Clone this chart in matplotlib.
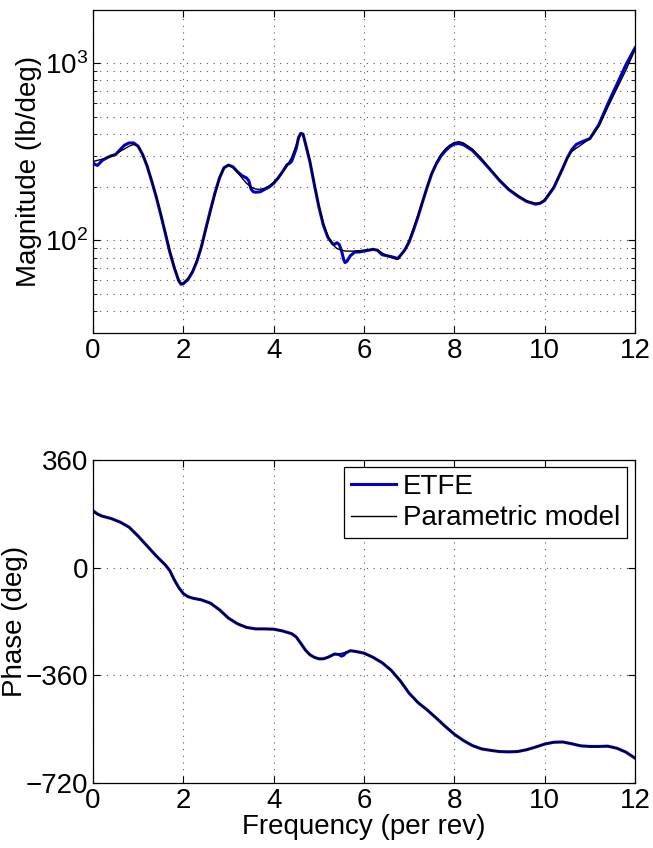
import matplotlib
matplotlib.use("Agg")
import matplotlib.pyplot as plt
from matplotlib.ticker import LogLocator, NullFormatter, FixedLocator

plt.rcParams['font.family'] = ['Liberation Sans', 'DejaVu Sans']
plt.rcParams['mathtext.fontset'] = 'custom'
plt.rcParams['mathtext.rm'] = 'Liberation Sans'
plt.rcParams['mathtext.it'] = 'Liberation Sans:italic'

# parametric model, magnitude
freq_mag_model = [0.0, 0.2, 0.4, 0.6, 0.8, 0.9, 1.0, 1.1, 1.2, 1.3, 1.4, 1.5, 1.6, 1.7, 1.8, 1.9, 1.95,
                  2.0, 2.1, 2.2, 2.3, 2.4, 2.5, 2.6, 2.7, 2.8, 2.9, 3.0, 3.1, 3.2, 3.3, 3.4, 3.5, 3.6,
                  3.7, 3.8, 3.9, 4.0, 4.1, 4.2, 4.3, 4.4, 4.5, 4.6, 4.65, 4.7, 4.8, 4.9, 5.0, 5.1, 5.2,
                  5.3, 5.4, 5.5, 5.6, 5.8, 6.0, 6.2, 6.3, 6.4, 6.5, 6.6, 6.75, 6.9, 7.0, 7.1, 7.2, 7.3,
                  7.4, 7.5, 7.6, 7.7, 7.8, 7.9, 8.0, 8.1, 8.2, 8.4, 8.6, 8.8, 9.0, 9.2, 9.4, 9.6, 9.8,
                  9.9, 10.0, 10.2, 10.4, 10.5, 10.6, 10.8, 11.0, 11.2, 11.4, 11.6, 11.8, 12.0]
mag_model = [279, 287, 298, 318, 340, 348, 340, 305, 262, 218, 178, 142, 112, 88, 71, 59, 57,
             57.5, 61, 67, 77, 92, 115, 145, 182, 222, 255, 268, 258, 242, 225, 210, 200, 195,
             194, 197, 203, 212, 225, 243, 265, 295, 345, 403, 400, 360, 285, 210, 158, 125, 106,
             95, 90, 88, 87, 87, 88, 89, 88, 85, 82, 80, 78, 88, 100, 118, 140, 168,
             200, 240, 275, 305, 328, 345, 357, 361, 355, 328, 290, 252, 220, 196, 180, 167, 162,
             163, 170, 200, 255, 290, 318, 345, 375, 440, 565, 720, 915, 1190]

# ETFE estimate, magnitude
freq_mag_etfe = [0.0, 0.05, 0.1, 0.2, 0.3, 0.4, 0.5, 0.6, 0.7, 0.8, 0.9, 1.0, 1.1, 1.2, 1.3, 1.4, 1.5,
                 1.6, 1.7, 1.8, 1.9, 1.95, 2.0, 2.1, 2.2, 2.3, 2.4, 2.5, 2.6, 2.7, 2.8, 2.9, 3.0, 3.1,
                 3.2, 3.3, 3.4, 3.45, 3.5, 3.55, 3.6, 3.7, 3.8, 3.9, 4.0, 4.1, 4.2, 4.3, 4.35, 4.4,
                 4.5, 4.55, 4.6, 4.65, 4.7, 4.8, 4.9, 5.0, 5.1, 5.2, 5.3, 5.35, 5.4, 5.45, 5.5, 5.55,
                 5.58, 5.62, 5.7, 5.8, 5.9, 6.0, 6.1, 6.2, 6.3, 6.4, 6.5, 6.6, 6.75, 6.9, 7.0, 7.1,
                 7.2, 7.3, 7.4, 7.5, 7.6, 7.7, 7.8, 7.9, 8.0, 8.1, 8.2, 8.4, 8.6, 8.8, 9.0, 9.2, 9.4,
                 9.6, 9.8, 9.9, 10.0, 10.2, 10.4, 10.5, 10.6, 10.7, 10.8, 11.0, 11.2, 11.4, 11.6,
                 11.8, 12.0]
mag_etfe = [275, 268, 265, 282, 292, 300, 305, 325, 345, 355, 355, 340, 305, 262, 216, 176, 140,
            110, 86, 70, 59, 56.5, 57, 60, 66, 76, 92, 117, 148, 185, 225, 257, 266, 260,
            244, 232, 225, 217, 195, 188, 187, 188, 194, 200, 210, 225, 245, 268, 272, 280,
            330, 380, 402, 398, 355, 280, 207, 155, 122, 104, 96, 95, 97, 95, 88, 78,
            75, 76, 82, 86, 86, 87, 88, 89, 88, 83, 82, 81, 79, 88, 98, 115,
            137, 166, 200, 238, 270, 298, 320, 338, 350, 352, 347, 322, 285, 250, 218, 194, 178,
            166, 160, 162, 168, 198, 255, 292, 325, 348, 358, 375, 450, 590, 760,
            980, 1220]

# phase, shared frequency points
freq_phase = [0.0, 0.1, 0.2, 0.4, 0.6, 0.8, 1.0, 1.2, 1.4, 1.6, 1.7, 1.8, 1.9, 2.0, 2.1, 2.2, 2.4,
              2.6, 2.8, 3.0, 3.2, 3.4, 3.6, 3.8, 4.0, 4.2, 4.4, 4.5, 4.6, 4.7, 4.8, 4.9, 5.0, 5.1,
              5.2, 5.35, 5.45, 5.5, 5.55, 5.6, 5.7, 5.8, 6.0, 6.2, 6.4, 6.6, 6.8, 7.0, 7.2, 7.4,
              7.6, 7.8, 8.0, 8.2, 8.4, 8.6, 8.8, 9.0, 9.2, 9.4, 9.6, 9.8, 10.0, 10.2, 10.4, 10.6,
              10.8, 11.0, 11.2, 11.4, 11.6, 11.8, 12.0]
phase_model = [187, 178, 172, 164, 152, 135, 106, 72, 39, 9, -10, -40, -67, -86, -97, -102, -108,
               -119, -141, -169, -188, -200, -205, -205, -206, -212, -222, -232, -253, -275, -291,
               -300, -304, -305, -300, -289, -288, -287, -285, -283, -278, -280, -286, -300, -318,
               -343, -378, -420, -452, -476, -503, -531, -557, -578, -595, -606, -611, -615, -616,
               -615, -609, -600, -590, -584, -583, -589, -596, -598, -598, -597, -604, -617, -637]
phase_etfe = [190, 179, 172, 164, 152, 135, 105, 72, 39, 9, -10, -41, -67, -87, -97, -102, -108,
              -119, -141, -169, -188, -200, -205, -205, -206, -212, -221, -232, -253, -275, -291,
              -300, -305, -305, -300, -289, -291, -296, -293, -285, -278, -280, -286, -300, -318,
              -343, -378, -420, -452, -476, -503, -531, -557, -578, -595, -606, -611, -615, -616,
              -615, -609, -600, -590, -584, -583, -589, -596, -598, -598, -597, -604, -617, -637]

xticks = [0, 2, 4, 6, 8, 10, 12]
phase_ticks = [-720, -360, 0, 360]

blue = '#0000cc'
fs = 20
grid_style = dict(color='0.35', linestyle=(0, (1, 5)), linewidth=0.8)

fig = plt.figure(figsize=(6.53, 8.48), dpi=100)
ax1 = fig.add_axes([0.1424, 0.6073, 0.83, 0.381])
ax2 = fig.add_axes([0.1424, 0.0767, 0.83, 0.381])

ax1.semilogy(freq_mag_etfe, mag_etfe, color=blue, lw=2.2, label='ETFE')
ax1.semilogy(freq_mag_model, mag_model, color='k', lw=1.0, label='Parametric model')
ax1.set_ylim(30, 2000)
ax1.yaxis.set_major_locator(LogLocator(base=10, numticks=10))
ax1.yaxis.set_minor_locator(LogLocator(base=10, subs=range(2, 10), numticks=20))
ax1.yaxis.set_minor_formatter(NullFormatter())
ax1.grid(True, which='both', axis='y', **grid_style)
ax1.grid(True, which='major', axis='x', **grid_style)
ax1.set_ylabel('Magnitude (lb/deg)', fontsize=fs, labelpad=2)

ax2.plot(freq_phase, phase_etfe, color=blue, lw=2.2, label='ETFE')
ax2.plot(freq_phase, phase_model, color='k', lw=1.0, label='Parametric model')
ax2.set_ylim(-720, 360)
ax2.yaxis.set_major_locator(FixedLocator(phase_ticks))
ax2.set_yticklabels(['\u2212720', '\u2212360', '0', '360'])
ax2.grid(True, **grid_style)
ax2.set_ylabel('Phase (deg)', fontsize=fs, labelpad=-2)
ax2.set_xlabel('Frequency (per rev)', fontsize=fs, labelpad=0)

leg = ax2.legend(loc='upper right', bbox_to_anchor=(0.985, 0.978), fontsize=fs,
                 fancybox=False, framealpha=1, edgecolor='k', borderpad=0.25,
                 handlelength=1.6, handletextpad=0.25, labelspacing=0.2, borderaxespad=0)
leg.get_frame().set_linewidth(0.9)

for ax in (ax1, ax2):
    ax.set_xlim(0, 12)
    ax.set_xticks(xticks)
    ax.tick_params(which='both', direction='in', top=True, right=True, labelsize=fs)
    ax.tick_params(which='major', length=5)
    ax.tick_params(which='minor', length=3)
    for s in ax.spines.values():
        s.set_linewidth(0.9)

fig.savefig('out.png', dpi=100)
